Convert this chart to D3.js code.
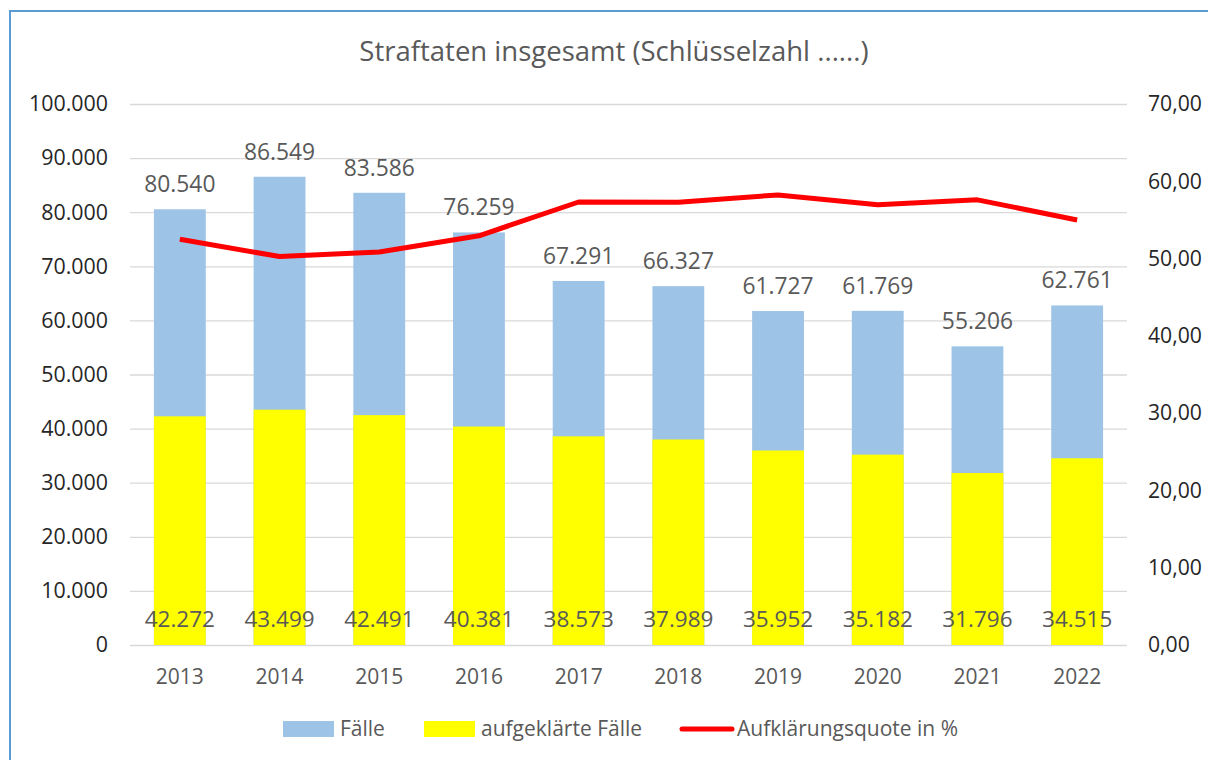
<!DOCTYPE html>
<html lang="de">
  <head>
    <meta charset="UTF-8" />
    <title>Straftaten insgesamt</title>
    <script src="https://d3js.org/d3.v7.min.js"></script>
    <style>
      * {
        margin: 0;
        padding: 0;
      }
      body {
        background: #fff;
      }
      svg text {
        font-family: "Open Sans", "Noto Sans", sans-serif;
      }
    </style>
  </head>
  <body>
    <div id="chart"></div>
    <script>
      const years = ["2013", "2014", "2015", "2016", "2017", "2018", "2019", "2020", "2021", "2022"];
      const faelle = [80540, 86549, 83586, 76259, 67291, 66327, 61727, 61769, 55206, 62761];
      const aufgeklaert = [42272, 43499, 42491, 40381, 38573, 37989, 35952, 35182, 31796, 34515];
      const quote = [52.49, 50.26, 50.84, 52.95, 57.32, 57.28, 58.24, 56.96, 57.6, 54.99];
      const leftTicks = [0, 10000, 20000, 30000, 40000, 50000, 60000, 70000, 80000, 90000, 100000];
      const rightTicks = [0, 10, 20, 30, 40, 50, 60, 70];

      const width = 1208;
      const height = 760;
      const plot = { left: 130, right: 1127, top: 104, bottom: 645 };

      const de = d3.formatLocale({ decimal: ",", thousands: ".", grouping: [3], currency: ["", " €"] });
      const fmtInt = de.format(",d");
      const fmtPct = de.format(".2f");

      const svg = d3
        .select("#chart")
        .append("svg")
        .attr("width", width)
        .attr("height", height);

      // frame of the excel chart (right and bottom edge are cut off)
      svg
        .append("rect")
        .attr("x", 10)
        .attr("y", 11)
        .attr("width", 1230)
        .attr("height", 800)
        .attr("fill", "#fff")
        .attr("stroke", "#5b9bd5")
        .attr("stroke-width", 2);

      const x = d3
        .scaleBand()
        .domain(years)
        .range([plot.left, plot.right])
        .paddingInner(0.48)
        .paddingOuter(0.24);

      const y = d3.scaleLinear().domain([0, 100000]).range([plot.bottom, plot.top]);
      const y2 = d3.scaleLinear().domain([0, 70]).range([plot.bottom, plot.top]);

      // gridlines
      svg
        .append("g")
        .selectAll("line")
        .data(leftTicks)
        .join("line")
        .attr("x1", plot.left)
        .attr("x2", plot.right)
        .attr("y1", (d) => y(d) + 0.5)
        .attr("y2", (d) => y(d) + 0.5)
        .attr("stroke", "#d9d9d9")
        .attr("stroke-width", 1.3);

      // left axis
      const axisL = svg
        .append("g")
        .attr("transform", `translate(${plot.left - 22},0)`)
        .call(d3.axisLeft(y).tickValues(leftTicks).tickFormat(fmtInt).tickSize(0).tickPadding(0));
      axisL.select(".domain").remove();
      axisL.selectAll("text").attr("font-size", 21.4).attr("fill", "#262626");

      // right axis
      const axisR = svg
        .append("g")
        .attr("transform", `translate(${plot.right + 21},0)`)
        .call(d3.axisRight(y2).tickValues(rightTicks).tickFormat(fmtPct).tickSize(0).tickPadding(0));
      axisR.select(".domain").remove();
      axisR.selectAll("text").attr("font-size", 21.2).attr("fill", "#262626");

      // x axis labels
      const axisB = svg
        .append("g")
        .attr("transform", `translate(0,${plot.bottom + 24})`)
        .call(d3.axisBottom(x).tickSize(0).tickPadding(0));
      axisB.select(".domain").remove();
      axisB.selectAll("text").attr("font-size", 21).attr("fill", "#595959");

      // bars: total cases behind, cleared cases in front
      svg
        .append("g")
        .selectAll("rect")
        .data(faelle)
        .join("rect")
        .attr("x", (d, i) => x(years[i]))
        .attr("y", (d) => y(d))
        .attr("width", x.bandwidth())
        .attr("height", (d) => y(0) - y(d))
        .attr("fill", "#9dc3e6");

      svg
        .append("g")
        .selectAll("rect")
        .data(aufgeklaert)
        .join("rect")
        .attr("x", (d, i) => x(years[i]))
        .attr("y", (d) => y(d))
        .attr("width", x.bandwidth())
        .attr("height", (d) => y(0) - y(d))
        .attr("fill", "#ffff00");

      // quote line
      const line = d3
        .line()
        .x((d, i) => x(years[i]) + x.bandwidth() / 2)
        .y((d) => y2(d));

      svg
        .append("path")
        .datum(quote)
        .attr("d", line)
        .attr("fill", "none")
        .attr("stroke", "#ff0000")
        .attr("stroke-width", 5)
        .attr("stroke-linejoin", "round");

      // labels
      svg
        .append("g")
        .selectAll("text")
        .data(faelle)
        .join("text")
        .attr("x", (d, i) => x(years[i]) + x.bandwidth() / 2)
        .attr("y", (d) => y(d) - 17)
        .attr("text-anchor", "middle")
        .attr("font-size", 22.8)
        .attr("fill", "#595959")
        .text((d) => fmtInt(d));

      svg
        .append("g")
        .selectAll("text")
        .data(aufgeklaert)
        .join("text")
        .attr("x", (d, i) => x(years[i]) + x.bandwidth() / 2)
        .attr("y", plot.bottom - 18)
        .attr("text-anchor", "middle")
        .attr("font-size", 22.5)
        .attr("fill", "#595959")
        .text((d) => fmtInt(d));

      // title
      svg
        .append("text")
        .attr("x", 614)
        .attr("y", 61)
        .attr("text-anchor", "middle")
        .attr("font-size", 27.5)
        .attr("fill", "#595959")
        .text("Straftaten insgesamt (Schlüsselzahl ......)");

      // legend
      const legendItems = [
        { label: "Fälle", color: "#9dc3e6", type: "rect", x: 283 },
        { label: "aufgeklärte Fälle", color: "#ffff00", type: "rect", x: 424 },
        { label: "Aufklärungsquote in %", color: "#ff0000", type: "line", x: 680 },
      ];
      const legend = svg
        .append("g")
        .selectAll("g")
        .data(legendItems)
        .join("g")
        .attr("transform", (d) => `translate(${d.x},729)`);

      legend
        .filter((d) => d.type === "rect")
        .append("rect")
        .attr("y", -8)
        .attr("width", 51)
        .attr("height", 16)
        .attr("fill", (d) => d.color);

      legend
        .filter((d) => d.type === "line")
        .append("line")
        .attr("x1", 2)
        .attr("x2", 52)
        .attr("stroke", (d) => d.color)
        .attr("stroke-width", 5)
        .attr("stroke-linecap", "round");

      legend
        .append("text")
        .attr("x", 57)
        .attr("y", 7)
        .attr("font-size", 21)
        .attr("fill", "#595959")
        .text((d) => d.label);
    </script>
  </body>
</html>
